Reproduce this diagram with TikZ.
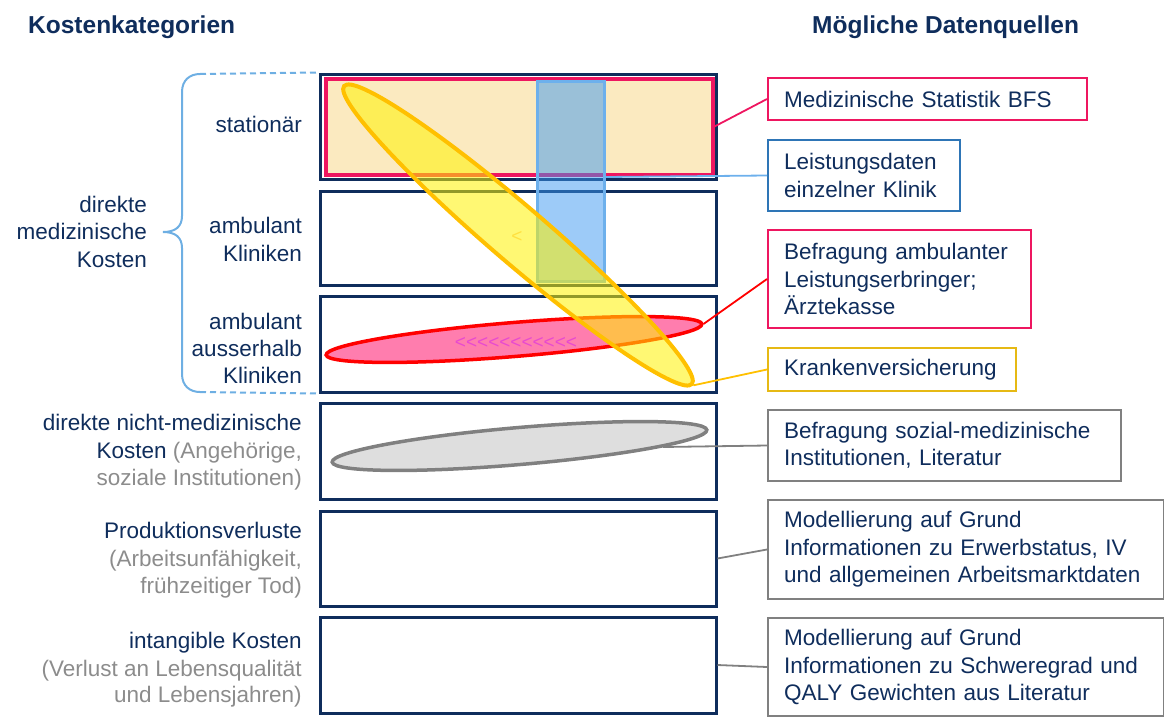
\documentclass[tikz,border=0pt]{standalone}
\usepackage{fontspec}
\setmainfont{Liberation Sans}
\usetikzlibrary{shapes.geometric}
\definecolor{navy}{HTML}{0F2D5C}
\definecolor{txtgray}{HTML}{8C8C8C}
\definecolor{crimson}{HTML}{EE1660}
\definecolor{peach}{HTML}{FBEAC0}
\definecolor{lblue}{HTML}{6DB0EC}
\definecolor{bfill}{HTML}{3B97F1}
\definecolor{dblue}{HTML}{2E75B6}
\definecolor{gold}{HTML}{FFC000}
\definecolor{kgold}{HTML}{E6B914}
\definecolor{pinkf}{HTML}{FF7DAE}
\definecolor{chev}{HTML}{E84AD0}
\definecolor{ychev}{HTML}{FFE040}
\definecolor{bracec}{HTML}{6EAFE3}
\definecolor{grayb}{HTML}{808080}
\definecolor{grayf}{HTML}{DEDEDE}
\newcommand{\onechev}{<\kern0pt}
\begin{document}
\begin{tikzpicture}[x=1pt,y=-1pt,
  lbl/.style={font=\fontsize{22.5}{27.5}\selectfont, text=navy, inner sep=0, anchor=base east},
  glbl/.style={lbl, text=txtgray},
  ttl/.style={font=\fontsize{24.5}{29}\selectfont\bfseries, text=navy, inner sep=0, anchor=base west},
  catbox/.style={draw=navy, line width=3pt, minimum width=396, inner sep=0},
  srcbox/.style={draw, line width=2pt, inner xsep=16, inner ysep=0, anchor=west, align=left,
    font=\fontsize{22.5}{27.5}\selectfont, text=navy},
  link/.style={line width=1.8pt},
]
\useasboundingbox (0,0) rectangle (1164,723);

% titles
\node[ttl] (t1) at (28,33) {Kostenkategorien};
\node[ttl] (t2) at (812,33) {Mögliche Datenquellen};

% category boxes
\node[catbox, minimum height=105] (b1) at (518,126.5) {};
\node[catbox, minimum height=94] (b2) at (518,238) {};
\node[catbox, minimum height=96] (b3) at (518,344) {};
\node[catbox, minimum height=96] (b4) at (518,451) {};
\node[catbox, minimum height=95] (b5) at (518,558.5) {};
\node[catbox, minimum height=96] (b6) at (518,665) {};

% brace
\draw[bracec, line width=2pt] (200,74) .. controls (190,74) and (182,80) .. (182,92)
  -- (182,216) .. controls (182,227) and (175,232) .. (163,232)
  .. controls (175,232) and (182,237) .. (182,248)
  -- (182,374) .. controls (182,386) and (190,392) .. (200,392);
\draw[bracec, line width=2pt, dash pattern=on 6pt off 4pt] (200,74) -- (b1.north west);
\draw[bracec, line width=2pt, dash pattern=on 6pt off 4pt] (200,392) -- (b3.south west);

% left labels
\node[lbl] (s1) at (302,132) {stationär};
\node[lbl] (s2a) at (302,233) {ambulant};
\node[lbl] (s2b) at (302,261) {Kliniken};
\node[lbl] (s3a) at (302,329) {ambulant};
\node[lbl] (s3b) at (302,356) {ausserhalb};
\node[lbl] (s3c) at (302,383) {Kliniken};
\node[lbl] (dm1) at (147,212) {direkte};
\node[lbl] (dm2) at (147,239) {medizinische};
\node[lbl] (dm3) at (147,267) {Kosten};
\node[lbl] (n1) at (302,430) {direkte nicht-medizinische};
\node[lbl] (n2) at (302,458) {Kosten {\color{txtgray}(Angehörige,}};
\node[glbl] (n3) at (302,485) {soziale Institutionen)};
\node[lbl] (p1) at (302,538) {Produktionsverluste};
\node[glbl] (p2) at (302,566) {(Arbeitsunfähigkeit,};
\node[glbl] (p3) at (302,593) {frühzeitiger Tod)};
\node[lbl] (i1) at (302,648) {intangible Kosten};
\node[glbl] (i2) at (302,676) {(Verlust an Lebensqualität};
\node[glbl] (i3) at (302,702) {und Lebensjahren)};

% shapes in boxes
\node[draw=crimson, line width=4pt, fill=peach, minimum width=387, minimum height=96, inner sep=0] (crim) at (519,126.5) {};
\node[draw=lblue, line width=3pt, fill=bfill, fill opacity=0.5, minimum width=67, minimum height=200, inner sep=0] (blu) at (570.5,181) {};
\node[ellipse, draw=red, line width=3.5pt, fill=pinkf, minimum width=377, minimum height=34, inner sep=0, rotate=4.7] (pink) at (514,339.5) {};
\node[text=chev, font=\fontsize{19}{19}\selectfont, inner sep=0] (pch) at (516,343)
  {\onechev\onechev\onechev\onechev\onechev\onechev\onechev\onechev\onechev\onechev\onechev};
\node[ellipse, draw=gold, line width=4pt, fill=yellow, fill opacity=0.55, minimum width=458, minimum height=56, inner sep=0, rotate=-40.6] (yel) at (518,235) {};
\node[text=ychev, font=\fontsize{19}{19}\selectfont, inner sep=0] (ych) at (517,237) {<};
\node[ellipse, draw=grayb, line width=3.5pt, fill=grayf, minimum width=376, minimum height=37, inner sep=0, rotate=4.9] (gry) at (519.5,446) {};
\coordinate (gcon) at (663,447);

% source boxes
\node[srcbox, draw=crimson, text width=287, minimum height=42] (r1) at (767,99) {Medizinische Statistik BFS};
\node[srcbox, draw=dblue, text width=160, minimum height=71] (r2) at (767,175.5) {Leistungsdaten\\einzelner Klinik};
\node[srcbox, draw=crimson, text width=231, minimum height=98] (r3) at (767,279) {Befragung ambulanter\\Leistungserbringer;\\Ärztekasse};
\node[srcbox, draw=kgold, text width=216, minimum height=43] (r4) at (767,369.5) {Krankenversicherung};
\node[srcbox, draw=grayb, text width=321, minimum height=71] (r5) at (767,445.5) {Befragung sozial-medizinische\\Institutionen, Literatur};
\node[srcbox, draw=grayb, text width=364, minimum height=99] (r6) at (767,549.5) {Modellierung auf Grund\\Informationen zu Erwerbstatus, IV\\und allgemeinen Arbeitsmarktdaten};
\node[srcbox, draw=grayb, text width=364, minimum height=98] (r7) at (767,667) {Modellierung auf Grund\\Informationen zu Schweregrad und\\QALY Gewichten aus Literatur};

% connectors
\draw[link, crimson] (crim.east) -- (r1.west);
\draw[link, lblue] ([yshift=4pt]blu.east) -- (r2.west);
\draw[link, red] (pink.east) -- (r3.west);
\draw[link, gold] (yel.east) -- (r4.west);
\draw[link, grayb] (gcon) -- (r5.west);
\draw[link, grayb] (b5.east) -- (r6.west);
\draw[link, grayb] (b6.east) -- (r7.west);
\end{tikzpicture}
\end{document}
